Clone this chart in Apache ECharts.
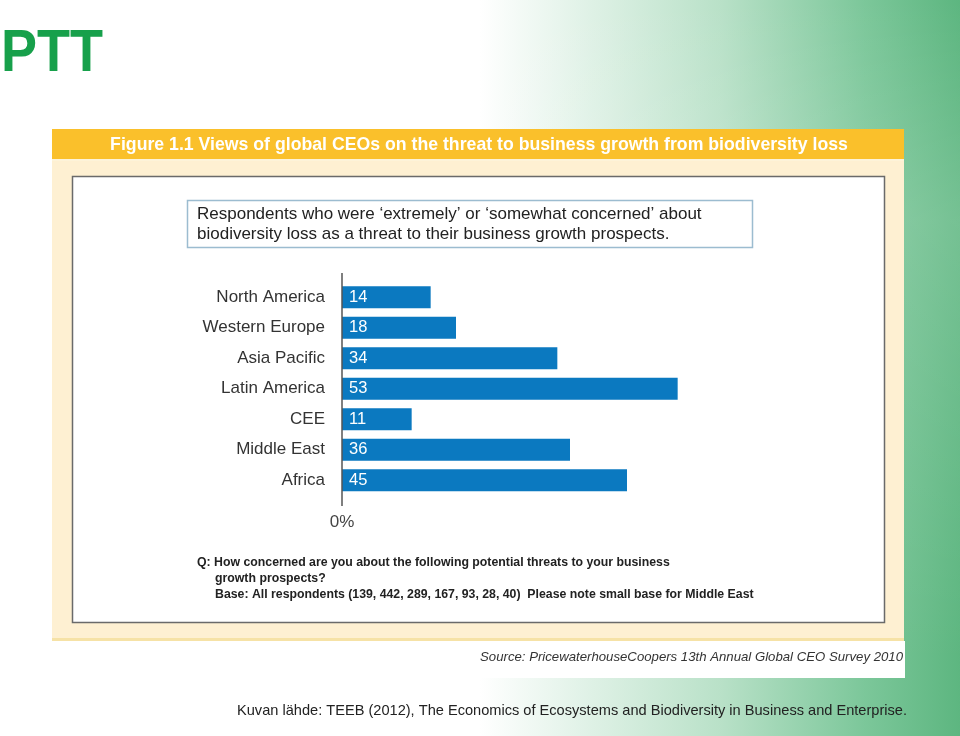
<!DOCTYPE html>
<html>
<head>
<meta charset="utf-8">
<script src="https://cdn.jsdelivr.net/npm/echarts@6/dist/echarts.min.js"></script>
<style>
html,body{margin:0;padding:0;background:#fff;}
#chart{width:960px;height:736px;}
</style>
</head>
<body>
<div id="chart"></div>
<script>
// ---- data ----
var categories = ['North America', 'Western Europe', 'Asia Pacific', 'Latin America', 'CEE', 'Middle East', 'Africa'];
var values = [14, 18, 34, 53, 11, 36, 45];
var axisTickLabels = ['0%'];
var figureTitle = 'Figure 1.1 Views of global CEOs on the threat to business growth from biodiversity loss';
var subtitleLines = ['Respondents who were \u2018extremely\u2019 or \u2018somewhat concerned\u2019 about',
                     'biodiversity loss as a threat to their business growth prospects.'];
var questionLines = ['Q: How concerned are you about the following potential threats to your business',
                     'growth prospects?',
                     'Base: All respondents (139, 442, 289, 167, 93, 28, 40)  Please note small base for Middle East'];
var sourceText = 'Source: PricewaterhouseCoopers 13th Annual Global CEO Survey 2010';
var captionText = 'Kuvan l\u00e4hde: TEEB (2012), The Economics of Ecosystems and Biodiversity in Business and Enterprise.';
var logoText = 'PTT';

var chart = echarts.init(document.getElementById('chart'), null, {renderer: 'canvas'});

var font = '"Liberation Sans", Arial, Helvetica, sans-serif';

var option = {
  backgroundColor: 'transparent',
  animation: false,
  grid: {left: 342, right: 238, top: 282, bottom: 240.5, containLabel: false},
  xAxis: {
    type: 'value', min: 0, max: 60, interval: 60,
    axisLine: {show: false}, axisTick: {show: false}, splitLine: {show: false},
    axisLabel: {
      margin: 18, fontSize: 17, color: '#444', fontFamily: font,
      formatter: function (v) { return v === 0 ? axisTickLabels[0] : ''; }
    }
  },
  yAxis: {
    type: 'category', inverse: true, data: categories,
    axisLine: {show: false}, axisTick: {show: false},
    axisLabel: {margin: 17, fontSize: 17, color: '#333', fontFamily: font}
  },
  series: [{
    type: 'bar', data: values, barWidth: 22,
    itemStyle: {color: '#0B79C0'},
    label: {show: true, position: 'insideLeft', distance: 7, color: '#fff', fontSize: 16.5, fontFamily: font}
  }],
  graphic: [
    // page background
    {type: 'rect', z: -20, silent: true, shape: {x: 0, y: 0, width: 960, height: 736},
      style: {fill: new echarts.graphic.LinearGradient(0, 0, 1, 0, [
        {offset: 0, color: '#ffffff'}, {offset: 0.5, color: '#ffffff'},
        {offset: 0.75, color: '#b9e1c8'}, {offset: 0.9, color: '#7cc79a'}, {offset: 1, color: '#5db680'}])}},
    {type: 'rect', z: -19, silent: true, shape: {x: 0, y: 0, width: 960, height: 736},
      style: {fill: new echarts.graphic.LinearGradient(0, 0, 0, 1, [
        {offset: 0, color: 'rgba(255,255,255,0)'}, {offset: 0.3, color: 'rgba(255,255,255,0.15)'},
        {offset: 0.9, color: 'rgba(255,255,255,0)'}, {offset: 1, color: 'rgba(255,255,255,0)'}])}},
    // logo
    {type: 'text', z: 5, silent: true, x: 1, y: 54, scaleX: 0.9,
      style: {text: logoText, fill: '#17A04B', font: 'bold 60px "Liberation Sans Narrow", Arial, sans-serif', verticalAlign: 'middle'}},
    // white strip under panel
    {type: 'rect', z: -10, silent: true, shape: {x: 52, y: 641, width: 853, height: 37}, style: {fill: '#ffffff'}},
    // cream panel
    {type: 'rect', z: -10, silent: true, shape: {x: 52, y: 159, width: 852, height: 482}, style: {fill: '#FEF0D2'}},
    {type: 'rect', z: -9, silent: true, shape: {x: 52, y: 638, width: 852, height: 3}, style: {fill: '#F6E2A6'}},
    // orange band
    {type: 'rect', z: -9, silent: true, shape: {x: 52, y: 129, width: 852, height: 30}, style: {fill: '#FAC02B'}},
    {type: 'rect', z: -9, silent: true, shape: {x: 52, y: 159, width: 852, height: 2}, style: {fill: '#FDF3D9'}},
    {type: 'text', z: 5, silent: true, x: 479, y: 145,
      style: {text: figureTitle, fill: '#ffffff', font: 'bold 17.7px "Liberation Sans Narrow", Arial, sans-serif', align: 'center', verticalAlign: 'middle'}},
    // inner white box
    {type: 'rect', z: -8, silent: true, shape: {x: 72.5, y: 176.5, width: 812, height: 446},
      style: {fill: '#ffffff', stroke: '#6a6a6a', lineWidth: 1.5}},
    // subtitle box
    {type: 'rect', z: -7, silent: true, shape: {x: 187.5, y: 200.5, width: 565, height: 47},
      style: {fill: '#ffffff', stroke: '#9CBCD0', lineWidth: 1.5}},
    {type: 'text', z: 5, silent: true, x: 197, y: 214,
      style: {text: subtitleLines[0], fill: '#222', font: '17px ' + font, verticalAlign: 'middle'}},
    {type: 'text', z: 5, silent: true, x: 197, y: 234,
      style: {text: subtitleLines[1], fill: '#222', font: '17px ' + font, verticalAlign: 'middle'}},
    // y axis line
    {type: 'line', z: 5, silent: true, shape: {x1: 342, y1: 273, x2: 342, y2: 506},
      style: {stroke: '#555', lineWidth: 1.5}},
    // question text
    {type: 'text', z: 5, silent: true, x: 197, y: 563,
      style: {text: questionLines[0], fill: '#222', font: 'bold 12.3px ' + font, verticalAlign: 'middle'}},
    {type: 'text', z: 5, silent: true, x: 215, y: 579,
      style: {text: questionLines[1], fill: '#222', font: 'bold 12.3px ' + font, verticalAlign: 'middle'}},
    {type: 'text', z: 5, silent: true, x: 215, y: 595,
      style: {text: questionLines[2], fill: '#222', font: 'bold 12.3px ' + font, verticalAlign: 'middle'}},
    // source
    {type: 'text', z: 5, silent: true, x: 903, y: 657,
      style: {text: sourceText, fill: '#333', font: 'italic 13.2px ' + font, align: 'right', verticalAlign: 'middle'}},
    // caption
    {type: 'text', z: 5, silent: true, x: 237, y: 711,
      style: {text: captionText, fill: '#222', font: '14.6px ' + font, verticalAlign: 'middle'}}
  ]
};
chart.setOption(option);
</script>
</body>
</html>
